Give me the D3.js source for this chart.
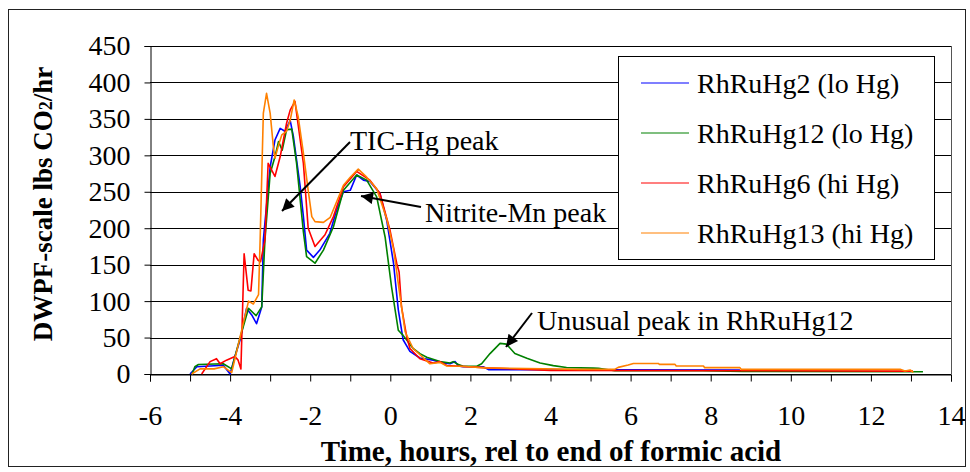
<!DOCTYPE html>
<html>
<head>
<meta charset="utf-8">
<script src="https://cdn.jsdelivr.net/npm/d3@7"></script>
<style>
  body { margin: 0; background: #fff; }
  svg text { font-family: "Liberation Serif", "Times New Roman", serif; }
</style>
</head>
<body>
<div class="chart"></div>
<script>
// data: hours rel to end of formic acid, lbs CO2/hr
const rhruhg2Hours = [-5.0, -4.83, -4.17, -4.0, -3.88, -3.75, -3.59, -3.46, -3.34, -3.21, -3.17, -3.0, -2.88, -2.75, -2.63, -2.5, -2.42, -2.25, -2.17, -2.09, -1.92, -1.76, -1.51, -1.34, -1.17, -1.0, -0.84, -0.67, -0.51, -0.26, -0.09, 0.08, 0.2, 0.32, 0.49, 0.74, 1.07, 1.32, 1.49, 1.62, 1.7, 1.82, 2.32, 2.45, 8.73];
const rhruhg2Values = [0, 10, 12, 0, 24, 47, 90, 81, 69, 92, 184, 284, 321, 337, 333, 348, 326, 257, 216, 170, 160, 170, 193, 225, 250, 252, 273, 266, 264, 248, 211, 152, 88, 47, 31, 22, 19, 15, 14, 17, 11, 10, 10, 6, 5.5];

const rhruhg12Hours = [-4.95, -4.88, -4.79, -4.17, -3.96, -3.79, -3.54, -3.35, -3.21, -3.13, -3.0, -2.88, -2.79, -2.7, -2.59, -2.46, -2.34, -2.17, -2.09, -1.88, -1.67, -1.42, -1.17, -0.84, -0.59, -0.34, -0.13, 0.03, 0.2, 0.32, 0.57, 0.74, 0.91, 1.24, 1.49, 1.57, 1.7, 1.82, 2.16, 2.28, 2.49, 2.74, 2.9, 3.11, 3.41, 3.74, 4.07, 4.4, 5.07, 5.2, 5.6, 7.8, 8.8, 13.3];
const rhruhg12Values = [0, 10, 13, 14, 7, 42, 90, 80, 92, 184, 275, 298, 319, 307, 335, 336, 289, 195, 161, 152, 170, 202, 252, 273, 266, 243, 188, 120, 60, 53, 35, 28, 23, 17, 15, 17, 13, 10.7, 10.7, 14, 28, 42, 41, 28, 21.5, 15, 11.5, 9, 8, 7.8, 4.5, 4.5, 3.5, 3];

const rhruhg6Hours = [-4.71, -4.5, -4.34, -4.25, -4.09, -3.88, -3.8, -3.73, -3.65, -3.55, -3.48, -3.4, -3.3, -3.24, -3.13, -3.05, -2.88, -2.75, -2.59, -2.5, -2.38, -2.17, -2.05, -1.88, -1.63, -1.42, -1.17, -0.84, -0.51, -0.26, -0.01, 0.16, 0.22, 0.28, 0.41, 0.49, 0.74, 1.07, 1.24, 1.41, 1.74, 2.41, 4.0, 13.05];
const rhruhg6Values = [0, 17, 21, 14, 19, 24, 19, 7, 165, 115, 114, 165, 156, 154, 184, 289, 271, 298, 344, 362, 374, 289, 200, 175, 191, 216, 257, 278, 266, 248, 198, 152, 140, 92, 51, 35, 21, 15, 17, 11.6, 10.7, 8.4, 5, 4];

const rhruhg13Hours = [-4.96, -4.75, -4.4, -4.17, -3.96, -3.75, -3.54, -3.42, -3.29, -3.25, -3.17, -3.09, -3.0, -2.92, -2.88, -2.79, -2.71, -2.59, -2.5, -2.4, -2.3, -2.17, -2.05, -1.96, -1.88, -1.67, -1.5, -1.17, -1.0, -0.8, -0.59, -0.34, -0.09, 0.08, 0.24, 0.37, 0.57, 0.99, 1.24, 1.41, 1.74, 2.41, 4.74, 5.6, 5.69, 5.94, 6.07, 6.69, 6.72, 7.11, 7.14, 7.82, 7.85, 8.73, 8.76, 12.73, 12.85, 12.98, 13.06];
const rhruhg13Values = [0, 7, 7, 10, 2, 51, 100, 96, 109, 184, 358, 385, 358, 312, 296, 314, 328, 333, 348, 376, 353, 303, 252, 216, 209, 208, 215, 259, 270, 281, 270, 254, 213, 172, 108, 58, 35, 14, 16, 11, 10.7, 8.4, 6.4, 6.4, 9.1, 12.3, 14.5, 14.5, 13.2, 13.2, 10.9, 10.9, 8.7, 8.7, 6.4, 6.4, 4.1, 5.5, 2.3];

const seriesNames = ["RhRuHg2 (lo Hg)", "RhRuHg12 (lo Hg)", "RhRuHg6 (hi Hg)", "RhRuHg13 (hi Hg)"];
const seriesColors = ["#0000ff", "#008000", "#ff0000", "#ff8000"];
const xTicks = [-6, -5, -4, -3, -2, -1, 0, 1, 2, 3, 4, 5, 6, 7, 8, 9, 10, 11, 12, 13, 14];
const yTicks = [0, 50, 100, 150, 200, 250, 300, 350, 400, 450];

const series = [
    [rhruhg2Hours, rhruhg2Values],
    [rhruhg12Hours, rhruhg12Values],
    [rhruhg6Hours, rhruhg6Values],
    [rhruhg13Hours, rhruhg13Values]
].map(function (s, i) {
    return {
        name: seriesNames[i],
        color: seriesColors[i],
        points: s[0].map(function (t, j) { return { t: t, v: s[1][j] }; })
    };
});

const w = 970, h = 472;
const plotLeft = 150, plotRight = 951, plotTop = 46, plotBottom = 374;

const svg = d3.select(".chart")
    .append("svg")
    .attr("width", w)
    .attr("height", h);

// outer chart border
svg.append("rect")
    .attr("x", 8.5).attr("y", 9.5)
    .attr("width", 957).attr("height", 457)
    .attr("fill", "white").attr("stroke", "#222").attr("stroke-width", 1);

const x = d3.scaleLinear().domain([-6, 14]).range([plotLeft, plotRight]);
const y = d3.scaleLinear().domain([0, 450]).range([plotBottom, plotTop]);

// horizontal gridlines
svg.append("g")
    .selectAll("line")
    .data(yTicks)
    .enter().append("line")
    .attr("x1", plotLeft).attr("x2", plotRight)
    .attr("y1", function (d) { return Math.round(y(d)) + 0.5; })
    .attr("y2", function (d) { return Math.round(y(d)) + 0.5; })
    .attr("stroke", "#000").attr("stroke-width", 1);

// right edge of plot area
svg.append("line")
    .attr("x1", Math.round(plotRight) + 0.5).attr("x2", Math.round(plotRight) + 0.5)
    .attr("y1", plotTop).attr("y2", plotBottom)
    .attr("stroke", "#555").attr("stroke-width", 1);

const xAxis = d3.axisBottom(x)
    .tickValues(xTicks)
    .tickSize(7)
    .tickFormat(function (d) { return d % 2 === 0 ? d : ""; });

const gx = svg.append("g")
    .attr("transform", "translate(0," + (Math.round(plotBottom) + 0.5) + ")")
    .call(xAxis);
gx.select(".domain").attr("stroke", "#000");
gx.selectAll(".tick line").attr("stroke", "#000");
gx.selectAll(".tick text")
    .attr("font-family", "Liberation Serif")
    .attr("font-size", 28)
    .attr("fill", "#000")
    .attr("dy", null)
    .attr("y", 50);

const yAxis = d3.axisLeft(y)
    .tickValues(yTicks)
    .tickSize(6)
    .tickPadding(14);

const gy = svg.append("g")
    .attr("transform", "translate(" + (plotLeft + 0.5) + ",0)")
    .call(yAxis);
gy.select(".domain").attr("stroke", "#000");
gy.selectAll(".tick line").attr("stroke", "#000");
gy.selectAll(".tick text")
    .attr("font-family", "Liberation Serif")
    .attr("font-size", 28)
    .attr("fill", "#000");

// axis titles
svg.append("text")
    .attr("x", 551).attr("y", 461)
    .attr("text-anchor", "middle")
    .attr("font-size", 29).attr("font-weight", "bold")
    .text("Time, hours, rel to end of formic acid");

const yTitle = svg.append("text")
    .attr("transform", "translate(52,204) rotate(-90)")
    .attr("text-anchor", "middle")
    .attr("font-size", 27).attr("font-weight", "bold");
yTitle.append("tspan").text("DWPF-scale lbs CO");
yTitle.append("tspan").attr("font-size", 18).text("2");
yTitle.append("tspan").text("/hr");

// the four runs
const line = d3.line()
    .x(function (d) { return x(d.t); })
    .y(function (d) { return y(d.v); });

svg.append("g")
    .selectAll("path")
    .data(series)
    .enter().append("path")
    .attr("d", function (d) { return line(d.points); })
    .attr("fill", "none")
    .attr("stroke", function (d) { return d.color; })
    .attr("stroke-width", 1.6)
    .attr("stroke-linejoin", "round");

// annotations
svg.append("defs").append("marker")
    .attr("id", "head")
    .attr("viewBox", "0 0 10 10")
    .attr("refX", 10).attr("refY", 5)
    .attr("markerWidth", 7).attr("markerHeight", 6)
    .attr("markerUnits", "strokeWidth")
    .attr("orient", "auto")
    .append("path")
    .attr("d", "M0,0 L10,5 L0,10 z")
    .attr("fill", "#000");

const notes = [
    { text: "TIC-Hg peak", tx: 350, ty: 150, from: [350, 142], to: [282, 211] },
    { text: "Nitrite-Mn peak", tx: 425, ty: 222, from: [421, 207], to: [361, 196] },
    { text: "Unusual peak in RhRuHg12", tx: 537, ty: 330, from: [532, 313], to: [506, 347] }
];

svg.append("g")
    .selectAll("line")
    .data(notes)
    .enter().append("line")
    .attr("x1", function (d) { return d.from[0]; })
    .attr("y1", function (d) { return d.from[1]; })
    .attr("x2", function (d) { return d.to[0]; })
    .attr("y2", function (d) { return d.to[1]; })
    .attr("stroke", "#000").attr("stroke-width", 2)
    .attr("marker-end", "url(#head)");

svg.append("g")
    .selectAll("text")
    .data(notes)
    .enter().append("text")
    .attr("x", function (d) { return d.tx; })
    .attr("y", function (d) { return d.ty; })
    .attr("font-size", 28)
    .text(function (d) { return d.text; });

// legend
const legend = svg.append("g");
legend.append("rect")
    .attr("x", 618.5).attr("y", 56.5)
    .attr("width", 316).attr("height", 203)
    .attr("fill", "white").attr("stroke", "#000");

const rows = legend.selectAll("g.row")
    .data(series)
    .enter().append("g")
    .attr("class", "row")
    .attr("transform", function (d, i) { return "translate(0," + (83 + i * 50) + ")"; });

rows.append("line")
    .attr("x1", 641).attr("x2", 689)
    .attr("stroke", function (d) { return d.color; })
    .attr("stroke-width", 1.2);

rows.append("text")
    .attr("x", 697).attr("y", 10)
    .attr("font-size", 28)
    .text(function (d) { return d.name; });
</script>
</body>
</html>
